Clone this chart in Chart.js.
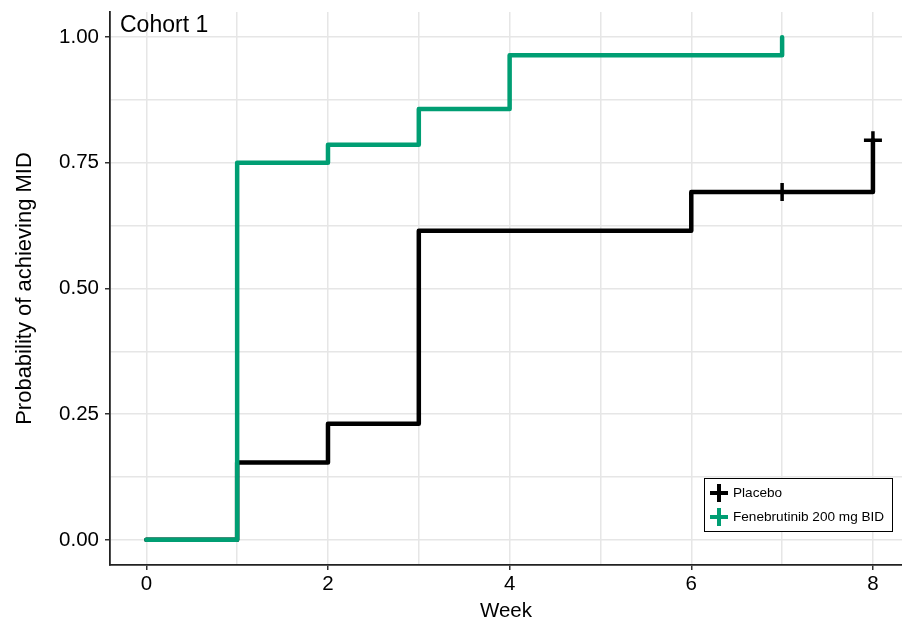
<!DOCTYPE html>
<html>
<head>
<meta charset="utf-8">
<script src="https://cdn.jsdelivr.net/npm/chart.js@4"></script>
<style>
  html, body { margin: 0; padding: 0; background: #fff; overflow: hidden; }
  #wrap { width: 902px; height: 625px; }
</style>
</head>
<body>
<div id="wrap"><canvas id="kmChart" width="902" height="625"></canvas></div>
<script>
// données
var panelTitle = 'Cohort 1';
var placeboWeeks = [0, 1, 2, 3, 6, 7, 8];
var placeboProb = [0, 0.154, 0.231, 0.615, 0.692, 0.692, 0.795];
var placeboCensored = [false, false, false, false, false, true, true];
var fenebWeeks = [0, 1, 2, 3, 4, 7];
var fenebProb = [0, 0.75, 0.786, 0.857, 0.964, 1.0];
var fenebCensored = [false, false, false, false, false, false];
var xTickValues = [0, 1, 2, 3, 4, 5, 6, 7, 8];
var yTickValues = [0, 0.125, 0.25, 0.375, 0.5, 0.625, 0.75, 0.875, 1];
var seriesLabels = ['Placebo', 'Fenebrutinib 200 mg BID'];
var seriesColors = ['#000000', '#009E73'];

var FONT = '"Liberation Sans", Arial, sans-serif';

function toPoints(xs, ys) {
    return xs.map(function (x, i) { return { x: x, y: ys[i] }; });
}
function censorRadius(flags) {
    return flags.map(function (c) { return c ? 9 : 0; });
}
function noPadding(scale) {
    scale.paddingLeft = 0; scale.paddingRight = 0;
    scale.paddingTop = 0; scale.paddingBottom = 0;
}

// Légende et titre du panneau dessinés dans la zone du graphique
var insidePlugin = {
    id: 'insideLegend',
    afterDraw: function (chart) {
        var ctx = chart.ctx;
        ctx.save();
        ctx.fillStyle = '#000';
        ctx.font = '23px ' + FONT;
        ctx.textBaseline = 'alphabetic';
        ctx.fillText(panelTitle, 120, 32);

        // boîte de légende
        var bx = 704.5, by = 478.5, bw = 188, bh = 53;
        ctx.fillStyle = '#fff';
        ctx.fillRect(bx, by, bw, bh);
        ctx.strokeStyle = '#000';
        ctx.lineWidth = 1;
        ctx.strokeRect(bx, by, bw, bh);
        chart.data.datasets.forEach(function (ds, i) {
            var cy = 493 + i * 24;
            var cx = 719;
            ctx.strokeStyle = ds.borderColor;
            ctx.lineWidth = 4;
            ctx.lineCap = 'butt';
            ctx.beginPath();
            ctx.moveTo(cx - 9, cy); ctx.lineTo(cx + 9, cy);
            ctx.moveTo(cx, cy - 9); ctx.lineTo(cx, cy + 9);
            ctx.stroke();
            ctx.fillStyle = '#000';
            ctx.font = '13.6px ' + FONT;
            ctx.textBaseline = 'middle';
            ctx.fillText(ds.label, 733, cy);
        });
        ctx.restore();
    }
};

var ctxKm = document.getElementById('kmChart').getContext('2d');
var kmChart = new Chart(ctxKm, {
    type: 'line',
    data: {
        datasets: [{
            label: seriesLabels[0],
            data: toPoints(placeboWeeks, placeboProb),
            borderColor: seriesColors[0],
            backgroundColor: seriesColors[0],
            borderWidth: 4.5,
            stepped: 'before',
            borderCapStyle: 'round',
            borderJoinStyle: 'round',
            pointStyle: 'cross',
            pointRadius: censorRadius(placeboCensored),
            pointBorderWidth: 3.5,
            pointBorderColor: seriesColors[0],
            order: 2
        }, {
            label: seriesLabels[1],
            data: toPoints(fenebWeeks, fenebProb),
            borderColor: seriesColors[1],
            backgroundColor: seriesColors[1],
            borderWidth: 4.5,
            stepped: 'before',
            borderCapStyle: 'round',
            borderJoinStyle: 'round',
            pointStyle: 'cross',
            pointRadius: censorRadius(fenebCensored),
            pointBorderWidth: 3.5,
            pointBorderColor: seriesColors[1],
            order: 1
        }]
    },
    options: {
        responsive: false,
        animation: false,
        layout: { autoPadding: false, padding: { top: 12, right: 0, left: 0, bottom: 0 } },
        plugins: {
            legend: { display: false },
            tooltip: { enabled: false }
        },
        scales: {
            x: {
                type: 'linear',
                min: -0.4,
                max: 8.32,
                afterBuildTicks: function (scale) {
                    scale.ticks = xTickValues.map(function (v) { return { value: v }; });
                },
                afterFit: function (scale) { scale.height = 60; noPadding(scale); },
                ticks: {
                    color: '#000',
                    font: { family: FONT, size: 20.5 },
                    padding: 2,
                    maxRotation: 0,
                    autoSkip: false,
                    callback: function (v) { return v % 2 === 0 ? String(v) : ''; }
                },
                grid: {
                    color: '#e6e6e6',
                    lineWidth: 1.5,
                    tickLength: 5,
                    tickColor: function (c) { return c.tick && c.tick.value % 2 === 0 ? '#333' : 'rgba(0,0,0,0)'; }
                },
                border: { display: true, color: '#222', width: 1.8 },
                title: {
                    display: true,
                    text: 'Week',
                    color: '#000',
                    font: { family: FONT, size: 20.5 },
                    padding: { top: 0, bottom: 1 }
                }
            },
            y: {
                type: 'linear',
                min: -0.05,
                max: 1.05,
                afterBuildTicks: function (scale) {
                    scale.ticks = yTickValues.map(function (v) { return { value: v }; });
                },
                afterFit: function (scale) { scale.width = 110; noPadding(scale); },
                ticks: {
                    color: '#000',
                    font: { family: FONT, size: 20.5 },
                    padding: 6,
                    autoSkip: false,
                    callback: function (v) { return (v * 4) % 1 === 0 ? v.toFixed(2) : ''; }
                },
                grid: {
                    color: '#e6e6e6',
                    lineWidth: 1.5,
                    tickLength: 5,
                    tickColor: function (c) { return c.tick && (c.tick.value * 4) % 1 === 0 ? '#333' : 'rgba(0,0,0,0)'; }
                },
                border: { display: true, color: '#222', width: 1.8 },
                title: {
                    display: true,
                    text: 'Probability of achieving MID',
                    color: '#000',
                    font: { family: FONT, size: 22 },
                    padding: { top: 12, bottom: 0 }
                }
            }
        }
    },
    plugins: [insidePlugin]
});
</script>
</body>
</html>
